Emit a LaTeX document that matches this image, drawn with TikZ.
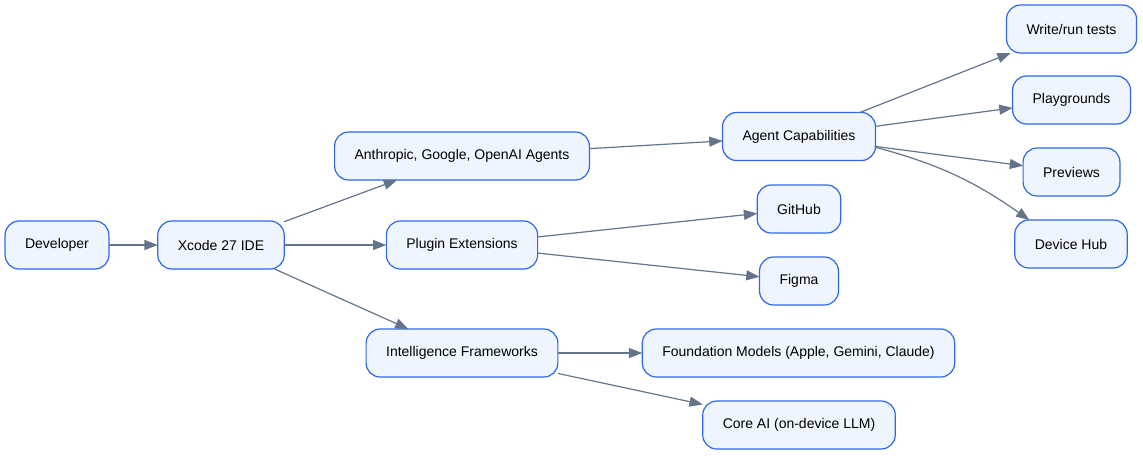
\documentclass[tikz,border=0pt]{standalone}
\usepackage{fontspec}
\setmainfont{Liberation Sans}
\usepackage{tikz}
\usetikzlibrary{arrows.meta}
\usepackage{xcolor}
\definecolor{boxfill}{HTML}{EFF5FF}
\definecolor{boxline}{HTML}{2F68E6}
\definecolor{edgecol}{HTML}{64748B}

\begin{document}
\begin{tikzpicture}[x=0.75pt,y=-0.75pt,>={Triangle[length=10pt,width=7.5pt]},every node/.style={font=\fontsize{10.5pt}{12pt}\selectfont},box/.style={draw=boxline,fill=boxfill,line width=0.9pt,rounded corners=10.5pt,minimum height=36pt,inner xsep=15pt,outer sep=0pt,align=center},arr/.style={->,draw=edgecol,line width=0.9pt}]
\useasboundingbox (0,0) rectangle (1143,455);
\node[box] (Dev) at (57,245) {Developer};
\node[box] (Xcode) at (221,245) {Xcode 27 IDE};
\node[box] (Agents) at (462,156) {Anthropic, Google, OpenAI Agents};
\node[box] (Plugin) at (462,245) {Plugin Extensions};
\node[box] (Intel) at (462,353) {Intelligence Frameworks};
\node[box] (Cap) at (799,136.5) {Agent Capabilities};
\node[box] (GH) at (799,209) {GitHub};
\node[box] (Figma) at (799,281) {Figma};
\node[box] (FM) at (798.5,353) {Foundation Models (Apple, Gemini, Claude)};
\node[box] (CoreAI) at (799,425) {Core AI (on-device LLM)};
\node[box] (Tests) at (1071.5,29) {Write/run tests};
\node[box] (Play) at (1071.5,100) {Playgrounds};
\node[box] (Prev) at (1071.5,172) {Previews};
\node[box] (Hub) at (1071,244) {Device Hub};
\draw[arr] (Dev) -- (Xcode);
\draw[arr] (Xcode) -- (Agents);
\draw[arr] (Xcode) -- (Plugin);
\draw[arr] (Xcode) -- (Intel);
\draw[arr] (Agents) -- (Cap);
\draw[arr] (Plugin) -- (GH);
\draw[arr] (Plugin) -- (Figma);
\draw[arr] (Intel) -- (FM);
\draw[arr] (Intel) -- (CoreAI);
\draw[arr] (Cap) -- (Tests);
\draw[arr] (Cap) -- (Play);
\draw[arr] (Cap) -- (Prev);
\draw[arr] (Cap.-8) to[out=-15,in=145] (Hub.150);
\end{tikzpicture}
\end{document}
